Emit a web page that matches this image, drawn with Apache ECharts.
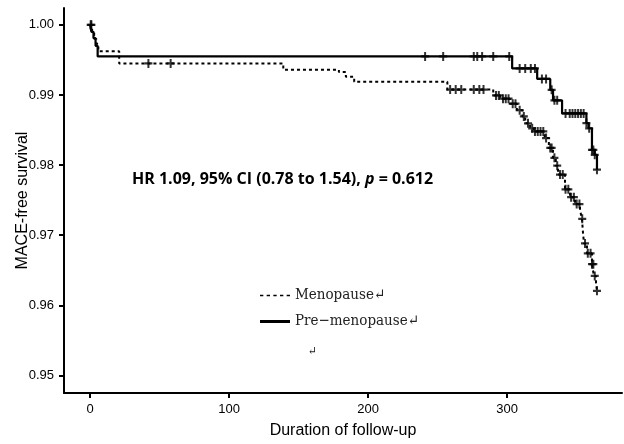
<!DOCTYPE html>
<html>
<head>
<meta charset="utf-8">
<script src="https://cdn.jsdelivr.net/npm/echarts@6/dist/echarts.min.js"></script>
<style>
  html, body { margin: 0; padding: 0; background: #fff; }
  #chart { width: 624px; height: 444px; }
</style>
</head>
<body>
<div id="chart"></div>
<script>
// Kaplan-Meier steps: [day, survival after the event]
const menopauseSteps = [
  [0, 1.0], [1.5, 0.999], [3, 0.998], [4.5, 0.9973], [6, 0.99625],
  [21, 0.9945], [139, 0.99358], [179, 0.99326], [184, 0.9926], [190, 0.9919],
  [257, 0.99077], [290, 0.98993], [295, 0.98947], [302, 0.98876], [307, 0.98782],
  [311, 0.98694], [313, 0.98596], [316.5, 0.98525], [319, 0.98479], [327, 0.98385],
  [330, 0.98244], [333, 0.98104], [335, 0.97992], [336.6, 0.97865], [341.6, 0.97654],
  [345.2, 0.97542], [348.8, 0.97444], [352.4, 0.9736], [353.8, 0.97233], [354.6, 0.97022],
  [355.3, 0.96882], [357.4, 0.96742], [361, 0.96587], [362.4, 0.96419], [363.9, 0.9632],
  [364.6, 0.96208]
];
const preMenopauseSteps = [
  [0, 1.0], [1, 0.999], [2.5, 0.9981], [4, 0.997], [5.5, 0.9955],
  [303.6, 0.99378], [321.6, 0.99228], [331, 0.99073], [333, 0.98923], [339.5, 0.98736],
  [357, 0.986], [358.5, 0.98525], [361, 0.98216], [363, 0.98146], [364.6, 0.97935]
];

// censored observations (days)
const menopauseCensor = [
  1, 42, 58, 259, 263, 267, 276, 280, 283, 292, 294, 297, 299, 301, 304, 306, 309,
  312, 315, 318, 320, 322, 324, 326, 328, 331, 332, 334, 336, 338, 340, 342, 344,
  346, 348, 350, 352, 354, 356, 358, 360, 361, 362, 363, 364.6
];
const preMenopauseCensor = [
  0.5, 241, 254, 276, 278.5, 282, 290, 301.5, 309, 313, 317, 320, 325, 328, 332,
  334, 336, 342, 345, 347, 349, 351, 353, 355, 357, 359, 361, 362, 363, 364.6
];

const xTicks = [0, 100, 200, 300];
const yTicks = [0.95, 0.96, 0.97, 0.98, 0.99, 1.0];
const groupNames = ['Menopause', 'Pre-menopause'];

function survivalAt(steps, t) {
  let s = steps[0][1];
  for (const [x, y] of steps) {
    if (x <= t) s = y;
  }
  return s;
}
const marks = (steps, times) => times.map(t => [t, survivalAt(steps, t)]);

const plusSymbol = 'path://M3,0H5V3H8V5H5V8H3V5H0V3H3Z';
const tickFont = "'Liberation Sans Narrow', 'Liberation Sans', Arial, sans-serif";
const legendFont = "'DejaVu Serif Condensed', 'DejaVu Serif', serif";

const chart = echarts.init(document.getElementById('chart'), null, { renderer: 'canvas' });

chart.setOption({
  animation: false,
  backgroundColor: '#fff',
  grid: { left: 64, right: 2, top: 8, bottom: 45 },
  xAxis: {
    type: 'value',
    min: -18.7,
    max: 382.6,
    name: 'Duration of follow-up',
    nameLocation: 'middle',
    nameGap: 30,
    nameMoveOverlap: false,
    nameTextStyle: { color: '#000', fontSize: 16, fontFamily: 'Liberation Sans, Arial, sans-serif' },
    axisLine: { onZero: false, lineStyle: { color: '#000', width: 2 } },
    axisTick: { customValues: xTicks, length: 5, lineStyle: { color: '#000', width: 2 } },
    axisLabel: { customValues: xTicks, color: '#000', fontSize: 13, fontFamily: tickFont, margin: 10 },
    splitLine: { show: false }
  },
  yAxis: {
    type: 'value',
    min: 0.9475,
    max: 1.0024,
    name: 'MACE-free survival',
    nameLocation: 'middle',
    nameGap: 33,
    nameMoveOverlap: false,
    nameTextStyle: { color: '#000', fontSize: 16, fontFamily: 'Liberation Sans, Arial, sans-serif' },
    axisLine: { show: true, onZero: false, lineStyle: { color: '#000', width: 2 } },
    axisTick: { show: true, customValues: yTicks, length: 5, lineStyle: { color: '#000', width: 2 } },
    axisLabel: {
      customValues: yTicks,
      color: '#000',
      fontSize: 13,
      fontFamily: tickFont,
      margin: 10,
      formatter: v => v.toFixed(2)
    },
    splitLine: { show: false }
  },
  legend: {
    orient: 'vertical',
    left: 260,
    top: 287,
    padding: 0,
    itemGap: 9,
    itemWidth: 30,
    itemHeight: 3,
    selectedMode: false,
    data: [
      { name: groupNames[0], icon: 'path://M0,0H2V1H0ZM4,0H6V1H4ZM8,0H10V1H8ZM12,0H14V1H12ZM16,0H18V1H16Z' },
      { name: groupNames[1], icon: 'rect' }
    ],
    formatter: name => name.replace('-', '\u2212') + '\u21b5',
    textStyle: { color: '#222', fontSize: 15, fontFamily: legendFont, lineHeight: 17 }
  },
  graphic: [
    {
      type: 'text',
      left: 132,
      top: 171,
      style: {
        text: '{b|HR 1.09, 95% CI (0.78 to 1.54), }{i|p}{b| = 0.612}',
        rich: {
          b: { fontSize: 16, fontWeight: 'bold', fontFamily: 'Open Sans, sans-serif', fill: '#000' },
          i: { fontSize: 16, fontWeight: 'bold', fontStyle: 'italic', fontFamily: 'Open Sans, sans-serif', fill: '#000' }
        }
      }
    },
    {
      type: 'text',
      left: 308,
      top: 346,
      style: { text: '\u21b5', fontSize: 12, fontFamily: legendFont, fill: '#222' }
    }
  ],
  series: [
    {
      name: groupNames[0],
      type: 'line',
      step: 'end',
      showSymbol: false,
      data: menopauseSteps,
      itemStyle: { color: '#000' },
      lineStyle: { color: '#000', width: 2, type: [3, 3] },
      z: 3
    },
    {
      name: groupNames[1],
      type: 'line',
      step: 'end',
      showSymbol: false,
      data: preMenopauseSteps,
      itemStyle: { color: '#000' },
      lineStyle: { color: '#000', width: 2.2 },
      z: 3
    },
    {
      name: groupNames[0] + ' censored',
      type: 'scatter',
      symbol: plusSymbol,
      symbolSize: [8, 9],
      data: marks(menopauseSteps, menopauseCensor),
      itemStyle: { color: '#000' },
      z: 4
    },
    {
      name: groupNames[1] + ' censored',
      type: 'scatter',
      symbol: plusSymbol,
      symbolSize: [8, 9],
      data: marks(preMenopauseSteps, preMenopauseCensor),
      itemStyle: { color: '#000' },
      z: 4
    }
  ]
});
</script>
</body>
</html>
